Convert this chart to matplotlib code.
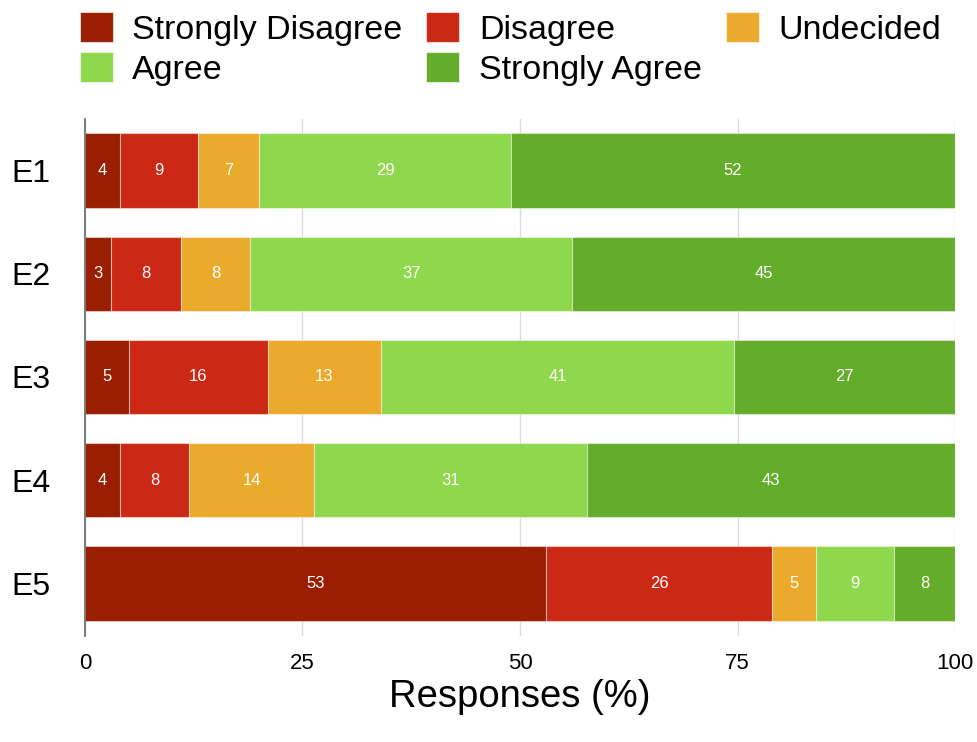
import matplotlib
matplotlib.use("Agg")
import matplotlib.pyplot as plt
from matplotlib.patches import Patch
import numpy as np

plt.rcParams['font.family'] = ['Liberation Sans', 'DejaVu Sans']

categories = ["E1", "E2", "E3", "E4", "E5"]
series_names = ["Strongly Disagree", "Disagree", "Undecided", "Agree", "Strongly Agree"]
strongly_disagree = [4, 3, 5, 4, 53]
disagree = [9, 8, 16, 8, 26]
undecided = [7, 8, 13, 14.3, 5]
agree = [29, 37, 40.6, 31.4, 9]
strongly_agree = [52, 45, 27, 43, 8]
x_ticks = [0, 25, 50, 75, 100]

colors = ["#9A1E02", "#CC2816", "#EAAA2C", "#8FD74C", "#64AD2A"]
series = [strongly_disagree, disagree, undecided, agree, strongly_agree]

fig = plt.figure(figsize=(9.78, 7.42), dpi=100)
ax = fig.add_axes([85/978, 1-636/742, (955-85)/978, (636-119)/742])

y = np.arange(len(categories))
left = np.zeros(len(categories))
for vals, col, name in zip(series, colors, series_names):
    vals = np.array(vals, dtype=float)
    ax.barh(y, vals, left=left, height=0.72, color=col,
            edgecolor=(1, 1, 1, 0.45), linewidth=0.8, label=name, zorder=2)
    for yi, l, v in zip(y, left, vals):
        r = min(l + v, 100)
        ax.text((l + r) / 2, yi, f"{int(round(v))}", ha="center", va="center",
                color="white", fontsize=12, zorder=3)
    left = left + vals

ax.set_xlim(0, 100)
ax.set_ylim(4.51, -0.5)
ax.set_yticks(y)
ax.set_yticklabels(categories, fontsize=23)
ax.set_xticks(x_ticks)
ax.set_xticklabels([str(t) for t in x_ticks], fontsize=16)
ax.tick_params(axis="y", length=0, pad=25)
ax.tick_params(axis="x", length=0, pad=12)
ax.xaxis.grid(True, color="#dcdcdc", linewidth=1.0, zorder=0)
ax.set_axisbelow(True)
for s in ["top", "right", "bottom"]:
    ax.spines[s].set_visible(False)
ax.spines["left"].set_color("#707070")
ax.spines["left"].set_linewidth(1.3)
ax.set_xlabel("Responses (%)", fontsize=27.5, labelpad=4)

handles = [Patch(facecolor=c, edgecolor=(1, 1, 1, 0.6), linewidth=0.8) for c in colors]
order = [0, 3, 1, 4, 2]
leg = fig.legend([handles[i] for i in order], [series_names[i] for i in order],
                 ncol=3, loc="upper left", bbox_to_anchor=(80/978, 1-12/742),
                 bbox_transform=fig.transFigure, frameon=False, fontsize=24.5,
                 handlelength=0.97, handleheight=0.97, handletextpad=0.57,
                 columnspacing=0.7, labelspacing=0.2, borderpad=0, borderaxespad=0)

fig.savefig("out.png", dpi=100)
